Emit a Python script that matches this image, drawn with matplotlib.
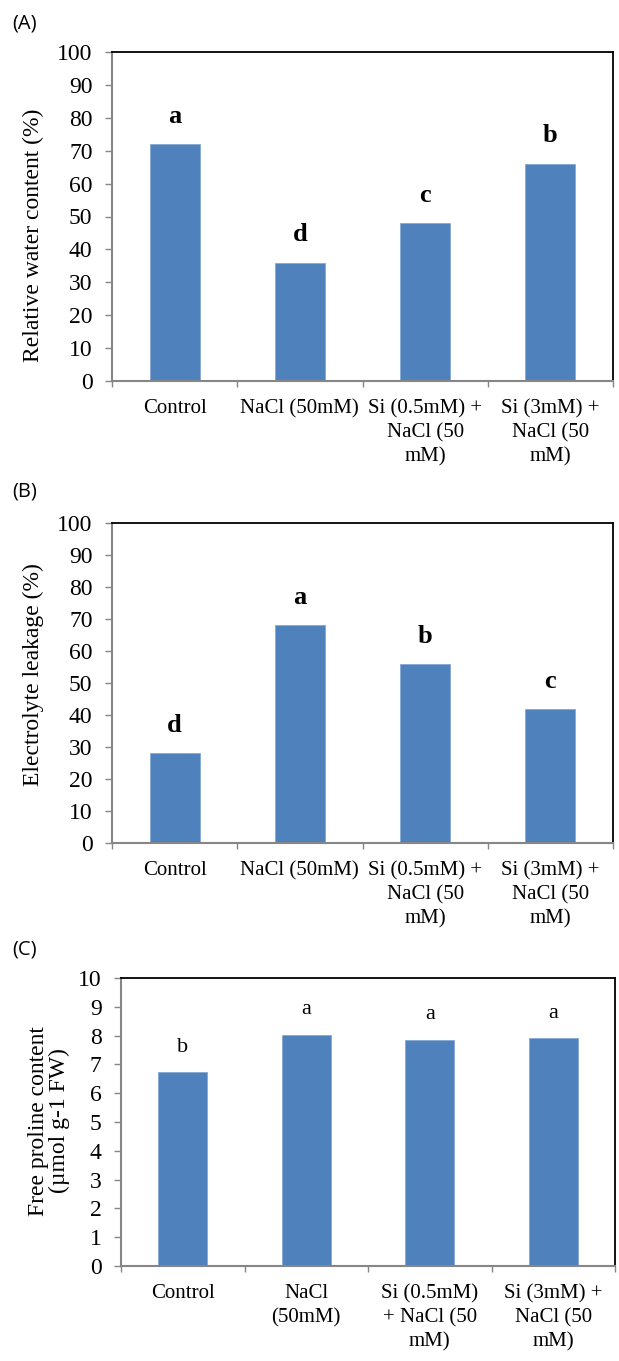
import matplotlib.pyplot as plt
import numpy as np

cats_ab = ['Control', 'NaCl (50mM)', 'Si (0.5mM) +\nNaCl (50\nmM)', 'Si (3mM) +\nNaCl (50\nmM)']
cats_c = ['Control', 'NaCl\n(50mM)', 'Si (0.5mM)\n+ NaCl (50\nmM)', 'Si (3mM) +\nNaCl (50\nmM)']

rwc = [72, 36, 48, 66]
rwc_letters = ['a', 'd', 'c', 'b']
el = [28, 68, 56, 42]
el_letters = ['d', 'a', 'b', 'c']
proline = [6.72, 8.02, 7.85, 7.9]
proline_letters = ['b', 'a', 'a', 'a']

SERIF = 'Liberation Serif'
BAR = '#4F81BD'
GRAY = '#868686'
W, H = 619, 1361

fig = plt.figure(figsize=(W / 100, H / 100), dpi=100)


def panel(rect, vals, letters, cats, ymax, step, bold, off):
    ax = fig.add_axes(rect)
    x = np.arange(len(vals))
    ax.bar(x, vals, width=0.4, color=BAR, edgecolor='#7FA3D0', linewidth=0.5, zorder=2)
    for xi, v, l in zip(x, vals, letters):
        ax.text(xi, v + off, l, ha='center', va='bottom', family=SERIF,
                fontsize=19 if bold else 16, fontweight='bold' if bold else 'normal')
    ax.set_xlim(-0.5, len(vals) - 0.5)
    ax.set_ylim(0, ymax)
    ax.set_yticks(np.arange(0, ymax + step / 2, step))
    ax.set_xticks(x)
    ax.set_xticklabels(cats, family=SERIF, fontsize=15, linespacing=1.35)
    ax.set_xticks(np.arange(-0.5, len(vals), 1), minor=True)
    ax.tick_params(axis='x', which='major', length=0, pad=13)
    ax.tick_params(axis='x', which='minor', length=4, color=GRAY, width=1)
    ax.tick_params(axis='y', length=5, color=GRAY, width=1, labelsize=17, pad=9)
    for t in ax.get_yticklabels():
        t.set_family(SERIF)
    ax.spines['left'].set_color(GRAY)
    ax.spines['bottom'].set_color(GRAY)
    ax.spines['left'].set_linewidth(1.5)
    ax.spines['bottom'].set_linewidth(1.5)
    ax.spines['top'].set_linewidth(1.3)
    ax.spines['right'].set_linewidth(1.3)
    return ax


panel([112 / W, 1 - 381 / H, 501 / W, 329 / H], rwc, rwc_letters, cats_ab, 100, 10, True, 5)
panel([112 / W, 1 - 843 / H, 501 / W, 320 / H], el, el_letters, cats_ab, 100, 10, True, 5)
panel([121 / W, 1 - 1266 / H, 494 / W, 288 / H], proline, proline_letters, cats_c, 10, 1, False, 0.55)

ylabels = [(33, 235, 'Relative water content (%)'),
           (33, 675, 'Electrolyte leakage (%)'),
           (49, 1121, 'Free proline content\n(µmol g-1 FW)')]
for x, y, lab in ylabels:
    fig.text(x / W, 1 - y / H, lab, family=SERIF, fontsize=17, rotation=90,
             ha='center', va='center', linespacing=1.05)

for y, lab in [(24, '(A)'), (492, '(B)'), (949, '(C)')]:
    fig.text(12 / W, 1 - y / H, lab, family='Open Sans', fontsize=14.5, va='center')

fig.savefig('out.png', dpi=100)
